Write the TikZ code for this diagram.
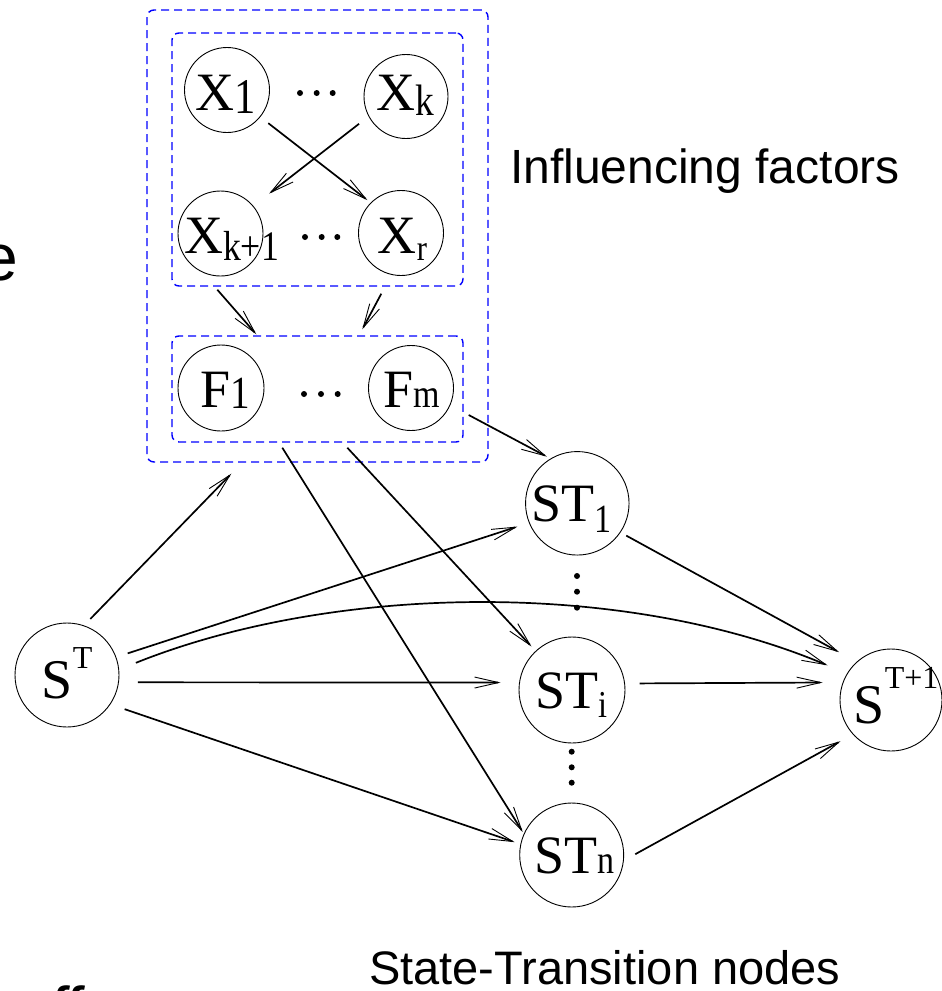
\documentclass[tikz,border=0pt]{standalone}
\usepackage{fontspec}
\usepackage{graphicx}
\setmainfont{Liberation Serif}
\setsansfont{Liberation Sans}
\usetikzlibrary{arrows.meta,calc}
\newcommand{\mysub}[3]{\raisebox{-#1pt}{\scalebox{0.85}[1]{\fontsize{#2}{#2}\selectfont #3}}}
\newcommand{\mysup}[3]{\raisebox{#1pt}{\fontsize{#2}{#2}\selectfont #3}}
\begin{document}
\begin{tikzpicture}[x=1pt,y=-1pt,
  vnode/.style={circle, draw, line width=0.9pt, inner sep=0pt},
  lbl/.style={inner sep=0pt, anchor=base, font=\fontsize{54}{54}\selectfont},
  dbox/.style={draw={rgb,255:red,0;green,0;blue,255}, dash pattern=on 8pt off 5pt, line width=1.4pt, rounded corners=7pt, inner sep=0pt},
  arr/.style={line width=1.7pt, -{Straight Barb[length=24pt,width=11pt,line width=0.9pt]}},
  dotm/.style={fill=black, circle, inner sep=0pt, minimum size=6pt},
  stxt/.style={inner sep=0pt, anchor=base west, font=\sffamily\fontsize{48}{48}\selectfont}
]
\useasboundingbox (0,0) rectangle (942,991);

% dashed boxes
\node[dbox, minimum width=341pt, minimum height=452pt] (bo) at (317.5,236) {};
\node[dbox, minimum width=291pt, minimum height=253pt] (bx) at (317.5,159.5) {};
\node[dbox, minimum width=291pt, minimum height=106pt] (bf) at (317.5,389) {};

% circles
\node[vnode, minimum size=85pt] (X1) at (227,90) {};
\node[vnode, minimum size=84pt] (Xk) at (406,96.5) {};
\node[vnode, minimum size=85pt] (Xk1) at (220.5,233.5) {};
\node[vnode, minimum size=85pt] (Xr) at (401,233) {};
\node[vnode, minimum size=86pt] (F1) at (221,388) {};
\node[vnode, minimum size=85pt] (Fm) at (411,388) {};
\node[vnode, minimum size=103.5pt] (ST1) at (577.3,503.3) {};
\node[vnode, minimum size=106pt] (STi) at (572,690) {};
\node[vnode, minimum size=104pt] (STn) at (571.7,855) {};
\node[vnode, minimum size=104pt] (ST) at (67,675) {};
\node[vnode, minimum size=102pt] (STT) at (891,700) {};

% labels
\node[lbl] (X1l) at ($(X1)+(-1,20)$) {X\mysub{3}{50}{1}};
\node[lbl] (Xkl) at ($(Xk)+(-1,13.5)$) {X\mysub{5}{44}{k}};
\node[lbl] (Xk1l) at ($(Xk1)+(11,19.5)$) {X\mysub{7}{42}{k+1}};
\node[lbl] (Xrl) at ($(Xr)+(1.5,20)$) {X\mysub{7}{36}{r}};
\node[lbl] (F1l) at ($(F1)+(4,19)$) {F\mysub{1}{46}{1}};
\node[lbl] (Fml) at ($(Fm)+(1,19)$) {F\mysub{0}{40}{m}};
\node[lbl] (ST1l) at ($(ST1)+(-6,18.4)$) {ST\mysub{11}{40}{1}};
\node[lbl] (STil) at ($(STi)+(-1,18)$) {ST\mysub{9}{38}{i}};
\node[lbl] (STnl) at ($(STn)+(3,18)$) {ST\mysub{0}{40}{n}};
\node[lbl, font=\fontsize{56}{56}\selectfont] (STl) at ($(ST)+(0,23)$) {S\mysup{30}{32}{T}};
\node[lbl, font=\fontsize{56}{56}\selectfont] (STTl) at ($(STT)+(5,23)$) {S\mysup{35}{32}{T+1}};

% dots
\foreach \x [count=\i] in {300,316.7,332.7} \node[dotm] (da\i) at (\x,93) {};
\foreach \x [count=\i] in {305,321.7,337.3} \node[dotm] (db\i) at (\x,237) {};
\foreach \x [count=\i] in {304,321,337.7} \node[dotm] (dc\i) at (\x,394) {};
\foreach \y [count=\i] in {576,591.7,607.7} \node[dotm] (dd\i) at (577,\y) {};
\foreach \y [count=\i] in {751.7,767.3,782.7} \node[dotm] (de\i) at (571.7,\y) {};

% arrows
\draw[arr, shorten <=10pt, shorten >=4pt] (X1.-39) -- (Xr.135);
\draw[arr, shorten <=12pt, shorten >=20pt] (Xk.208) -- (Xk1.40);
\draw[arr] ($(bx.south west)+(46,3)$) -- ($(bf.north west)+(85,-1)$);
\draw[arr] ($(bx.south west)+(210,7)$) -- ($(bf.north west)+(191,-6)$);
\draw[arr, shorten >=4pt] ($(bf.east)+(5,26)$) -- (ST1.121);
\draw[arr, shorten >=6pt] ($(bf.south west)+(176,5)$) -- (STi.133);
\draw[arr, shorten >=2pt] ($(bf.south west)+(111,5)$) -- (STn.156);
\draw[arr, shorten <=9pt] (ST.71) -- ($(bo.south west)+(85,11)$);
\draw[arr, shorten <=12pt, shorten >=12pt] (ST.20) -- (ST1.202);
\draw[arr, shorten <=18pt, shorten >=21pt] (ST.6.5) .. controls (330,585) and (620,578) .. (STT.149);
\draw[arr, shorten <=19pt, shorten >=18.5pt] (ST.-8) -- (STi.172);
\draw[arr, shorten <=15pt, shorten >=6pt] (ST.-34.6) -- (STn.168);
\draw[arr, shorten <=6.5pt, shorten >=20pt] (ST1.-34.5) -- (STT.132);
\draw[arr, shorten <=14.5pt, shorten >=20pt] (STi.7.6) -- (STT.160.5);
\draw[arr, shorten <=13pt, shorten >=14pt] (STn.-6) -- (STT.222.5);

% texts
\node[stxt] (inf) at (510,183) {Influencing factors};
\node[stxt, font=\sffamily\fontsize{47}{47}\selectfont] (stn) at (369,984) {State-Transition nodes};

% cut-off fragments at the page edges
\begin{scope}
\clip (0,0) rectangle (942,991);
\node[inner sep=0pt, anchor=base west, font=\sffamily\fontsize{66}{66}\selectfont] (frage) at (-19,280) {e};
\node[inner sep=0pt, anchor=base west, font=\sffamily\bfseries\itshape\fontsize{48}{48}\selectfont] (fragf) at (50,1020) {ff};
\end{scope}
\end{tikzpicture}
\end{document}
